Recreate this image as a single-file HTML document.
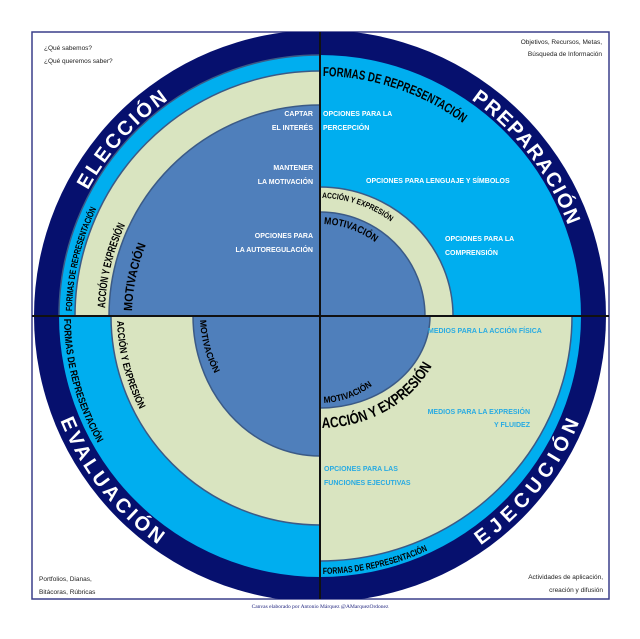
<!DOCTYPE html>
<html><head><meta charset="utf-8"><style>
html,body{margin:0;padding:0;background:#fff;}
svg{display:block;}
text{font-family:"Liberation Sans",sans-serif;}
</style></head><body>
<svg width="640" height="639" viewBox="0 0 640 639" xmlns="http://www.w3.org/2000/svg">
<defs>
<clipPath id="frame"><rect x="32" y="32" width="577" height="567"/></clipPath>
<clipPath id="tl"><rect x="32" y="32" width="288" height="284"/></clipPath>
<clipPath id="tr"><rect x="320" y="32" width="289" height="284"/></clipPath>
<clipPath id="bl"><rect x="32" y="316" width="288" height="283"/></clipPath>
<clipPath id="br"><rect x="320" y="316" width="289" height="283"/></clipPath>
<path id="pEle" d="M 56 316 A 264 264 0 0 1 320 52"/>
<path id="pPre" d="M 320 52 A 264 264 0 0 1 584 316"/>
<path id="pEva" d="M 40 316 A 280 280 0 0 0 320 596"/>
<path id="pEje" d="M 320 596 A 280 280 0 0 0 600 316"/>
<path id="tlF" d="M 72 316 A 248 248 0 0 1 320 68"/>
<path id="tlA" d="M 105 316 A 215 215 0 0 1 320 101"/>
<path id="tlM" d="M 132 316 A 188 188 0 0 1 320 128"/>
<path id="trF" d="M 320 76 A 240 240 0 0 1 560 316"/>
<path id="trA" d="M 320 198 A 118 118 0 0 1 438 316"/>
<path id="trM" d="M 320 224 A 92 92 0 0 1 412 316"/>
<path id="blF" d="M 64 316 A 256 256 0 0 0 320 572"/>
<path id="blA" d="M 117 316 A 203 203 0 0 0 320 519"/>
<path id="blM" d="M 200 316 A 120 120 0 0 0 320 436"/>
<path id="brM" d="M 320 403 A 87 87 0 0 0 407 316"/>
<path id="brA" d="M 320 428 A 125 112 0 0 0 445 316"/>
<path id="brF" d="M 320 574 A 258 258 0 0 0 578 316"/>
</defs>
<rect x="32" y="32" width="577" height="567" fill="#fff" stroke="#3a3f8a" stroke-width="1.5"/>
<g clip-path="url(#frame)">
<circle cx="320" cy="316" r="286" fill="#06106e"/>
</g>
<!-- TL -->
<g clip-path="url(#tl)" stroke="#3b5a86" stroke-width="1.5">
<circle cx="320" cy="316" r="261" fill="#00aeef"/>
<circle cx="320" cy="316" r="245" fill="#d9e4c0"/>
<circle cx="320" cy="316" r="211" fill="#4f7fbb"/>
</g>
<!-- TR -->
<g clip-path="url(#tr)" stroke="#3b5a86" stroke-width="1.5">
<circle cx="320" cy="316" r="261" fill="#00aeef" stroke="none"/>
<ellipse cx="320" cy="316" rx="133" ry="129" fill="#d9e4c0"/>
<ellipse cx="320" cy="316" rx="105" ry="104" fill="#4f7fbb"/>
</g>
<!-- BL -->
<g clip-path="url(#bl)" stroke="#3b5a86" stroke-width="1.5">
<circle cx="320" cy="316" r="261" fill="#00aeef" stroke="none"/>
<circle cx="320" cy="316" r="209" fill="#d9e4c0"/>
<ellipse cx="320" cy="316" rx="127" ry="140" fill="#4f7fbb"/>
</g>
<!-- BR -->
<g clip-path="url(#br)" stroke="#3b5a86" stroke-width="1.5">
<circle cx="320" cy="316" r="261" fill="#00aeef" stroke="none"/>
<ellipse cx="320" cy="316" rx="252" ry="245" fill="#d9e4c0"/>
<ellipse cx="320" cy="316" rx="110" ry="92" fill="#4f7fbb"/>
</g>
<line x1="32" y1="316" x2="609" y2="316" stroke="#111" stroke-width="2"/>
<line x1="320" y1="32" x2="320" y2="599" stroke="#111" stroke-width="2"/>

<!-- ring words -->
<g fill="#fff" font-weight="bold" font-size="20">
<text><textPath href="#pEle" startOffset="131" textLength="122" lengthAdjust="spacing">ELECCIÓN</textPath></text>
<text><textPath href="#pPre" startOffset="161" textLength="161" lengthAdjust="spacing">PREPARACIÓN</textPath></text>
<text><textPath href="#pEva" startOffset="107" textLength="160" lengthAdjust="spacing">EVALUACIÓN</textPath></text>
<text><textPath href="#pEje" startOffset="171" textLength="160" lengthAdjust="spacing">EJECUCIÓN</textPath></text>
</g>

<!-- curved labels -->
<g fill="#000" font-weight="bold">
<text font-size="9"><textPath href="#tlF" startOffset="5" textLength="106" lengthAdjust="spacingAndGlyphs">FORMAS DE REPRESENTACIÓN</textPath></text>
<text font-size="11"><textPath href="#tlA" startOffset="8" textLength="86" lengthAdjust="spacingAndGlyphs">ACCIÓN Y EXPRESIÓN</textPath></text>
<text font-size="12"><textPath href="#tlM" startOffset="5" textLength="68" lengthAdjust="spacingAndGlyphs">MOTIVACIÓN</textPath></text>
<text font-size="13"><textPath href="#trF" startOffset="3" textLength="150" lengthAdjust="spacingAndGlyphs">FORMAS DE REPRESENTACIÓN</textPath></text>
<text font-size="8"><textPath href="#trA" startOffset="2" textLength="74" lengthAdjust="spacingAndGlyphs">ACCIÓN Y EXPRESIÓN</textPath></text>
<text font-size="10"><textPath href="#trM" startOffset="4" textLength="55" lengthAdjust="spacingAndGlyphs">MOTIVACIÓN</textPath></text>
<text font-size="10"><textPath href="#blF" startOffset="3" textLength="130" lengthAdjust="spacingAndGlyphs">FORMAS DE REPRESENTACIÓN</textPath></text>
<text font-size="10"><textPath href="#blA" startOffset="5" textLength="92" lengthAdjust="spacingAndGlyphs">ACCIÓN Y EXPRESIÓN</textPath></text>
<text font-size="9"><textPath href="#blM" startOffset="4" textLength="56" lengthAdjust="spacingAndGlyphs">MOTIVACIÓN</textPath></text>
<text font-size="9"><textPath href="#brM" startOffset="4" textLength="52" lengthAdjust="spacingAndGlyphs">MOTIVACIÓN</textPath></text>
<text font-size="15"><textPath href="#brA" startOffset="2" textLength="132" lengthAdjust="spacingAndGlyphs">ACCIÓN Y EXPRESIÓN</textPath></text>
<text font-size="9"><textPath href="#brF" startOffset="3" textLength="108" lengthAdjust="spacingAndGlyphs">FORMAS DE REPRESENTACIÓN</textPath></text>
</g>

<!-- white labels -->
<g fill="#fff" font-weight="bold" font-size="7">
<text x="313" y="116" text-anchor="end">CAPTAR</text>
<text x="313" y="130" text-anchor="end">EL INTERÉS</text>
<text x="313" y="170" text-anchor="end">MANTENER</text>
<text x="313" y="184" text-anchor="end">LA MOTIVACIÓN</text>
<text x="313" y="238" text-anchor="end">OPCIONES PARA</text>
<text x="313" y="252" text-anchor="end">LA AUTOREGULACIÓN</text>
<text x="323" y="116">OPCIONES PARA LA</text>
<text x="323" y="130">PERCEPCIÓN</text>
<text x="366" y="183">OPCIONES PARA LENGUAJE Y SÍMBOLOS</text>
<text x="445" y="241">OPCIONES PARA LA</text>
<text x="445" y="255">COMPRENSIÓN</text>
</g>
<g fill="#29abe2" font-weight="bold" font-size="7">
<text x="428" y="333">MEDIOS PARA LA ACCIÓN FÍSICA</text>
<text x="530" y="414" text-anchor="end">MEDIOS PARA LA EXPRESIÓN</text>
<text x="530" y="427" text-anchor="end">Y FLUIDEZ</text>
<text x="324" y="471">OPCIONES PARA LAS</text>
<text x="324" y="485">FUNCIONES EJECUTIVAS</text>
</g>

<!-- corner notes -->
<g fill="#222" font-size="6.5">
<text x="44" y="50">¿Qué sabemos?</text>
<text x="44" y="63">¿Qué queremos saber?</text>
<text x="602" y="44" text-anchor="end">Objetivos, Recursos, Metas,</text>
<text x="602" y="56" text-anchor="end">Búsqueda de Información</text>
<text x="39" y="581">Portfolios, Dianas,</text>
<text x="39" y="594">Bitácoras, Rúbricas</text>
<text x="603" y="579" text-anchor="end">Actividades de aplicación,</text>
<text x="603" y="592" text-anchor="end">creación y difusión</text>
</g>
<text x="320" y="608" text-anchor="middle" font-family="Liberation Serif,serif" font-size="5.5" fill="#1a1f7a" style="font-family:'Liberation Serif',serif">Canvas elaborado por Antonio Márquez @AMarquezOrdonez</text>
</svg>
</body></html>
